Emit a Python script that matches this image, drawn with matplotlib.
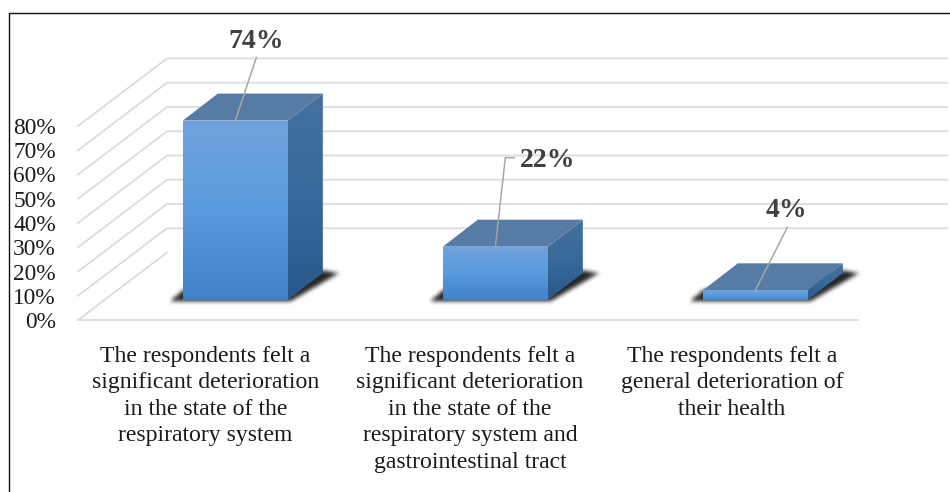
import numpy as np
import matplotlib
matplotlib.use('Agg')
import matplotlib.pyplot as plt
from matplotlib.colors import LinearSegmentedColormap
from matplotlib.lines import Line2D
from matplotlib.path import Path
from matplotlib.patches import Polygon

plt.rcParams['font.family'] = ['Liberation Serif', 'DejaVu Serif']

# data
categories = [
    "The respondents felt a\nsignificant deterioration\nin the state of the\nrespiratory system",
    "The respondents felt a\nsignificant deterioration\nin the state of the\nrespiratory system and\ngastrointestinal tract",
    "The respondents felt a\ngeneral deterioration of\ntheir health",
]
values = [74, 22, 4]
value_labels = ["74%", "22%", "4%"]
y_ticks = [0, 10, 20, 30, 40, 50, 60, 70, 80]
y_tick_labels = ["0%", "10%", "20%", "30%", "40%", "50%", "60%", "70%", "80%"]

# fake 3d geometry, one category is 260 px and 10% is 24.25 px
PX_X = 1 / 260
PX_Y = 1 / 2.425
FLOOR_DX = 89 * PX_X
FLOOR_DY = 67.5 * PX_Y
BAR_WIDTH = 105 * PX_X
BAR_DX = 35 * PX_X
BAR_DY = 27 * PX_Y
BAR_SHIFT = 0.296  # how far back on the floor the bars stand

# label offsets from the top front edge of each bar, in px
LABEL_OFFSET = [(21, 79), (52, 86), (31, 80)]
LEADER_PATH = [[(21, 63)], [(10, 89), (19, 89)], [(32, 63)]]
XLABEL_SHIFT = [-2.5, 2, 4]

front_cmap = LinearSegmentedColormap.from_list('front', ['#70A3DD', '#5A9BDD', '#3F82C6'])
side_cmap = LinearSegmentedColormap.from_list('side', ['#46719E', '#376A9B', '#28588A'])
grad = np.linspace(0, 1, 128).reshape(-1, 1)

fig = plt.figure(figsize=(9.5, 4.92), dpi=100)
ax = fig.add_axes([78 / 950, (492 - 320) / 492, 780 / 950, 194 / 492])


def draw_face(pts, cmap, zorder):
    poly = Polygon(pts, closed=True, fc='none', ec='none', transform=ax.transData)
    ax.add_patch(poly)
    xs = [p[0] for p in pts]
    ys = [p[1] for p in pts]
    im = ax.imshow(grad, cmap=cmap, aspect='auto', zorder=zorder,
                   extent=[min(xs), max(xs), min(ys), max(ys)])
    # bars can stick out above the 80% front line
    im.set_clip_box(fig.bbox)
    im.set_clip_path(poly)


def draw_shadow(pts, zorder):
    # soft shadow: fill the shape on a 1 px grid, then box blur it twice
    xs = [p[0] for p in pts]
    ys = [p[1] for p in pts]
    gx = np.arange(min(xs) - 20 * PX_X, max(xs) + 20 * PX_X, PX_X)
    gy = np.arange(min(ys) - 12 * PX_Y, max(ys) + 12 * PX_Y, PX_Y)
    mx, my = np.meshgrid(gx, gy)
    grid = np.column_stack([mx.ravel(), my.ravel()])
    mask = Path(pts).contains_points(grid).reshape(mx.shape).astype(float)
    kernel = np.ones(5) / 5
    for _ in range(2):
        mask = np.apply_along_axis(lambda r: np.convolve(r, kernel, mode='same'), 0, mask)
        mask = np.apply_along_axis(lambda r: np.convolve(r, kernel, mode='same'), 1, mask)
    rgba = np.zeros(mask.shape + (4,))
    rgba[..., 3] = mask * 0.85
    im = ax.imshow(rgba, origin='lower', aspect='auto', zorder=zorder, interpolation='bilinear',
                   extent=[gx[0], gx[-1], gy[0], gy[-1]])
    im.set_clip_box(fig.bbox)


# floor and back wall lines
for t in y_ticks:
    end = 3 + FLOOR_DX
    if t == 0:
        ax.plot([0, 3], [0, 0], color='#DCDCDC', lw=1.3, clip_on=False, zorder=1)
        ax.plot([0, FLOOR_DX], [0, FLOOR_DY], color='#DCDCDC', lw=1.3, clip_on=False, zorder=1)
    else:
        ax.plot([0, FLOOR_DX, end], [t, t + FLOOR_DY, t + FLOOR_DY],
                color='#DCDCDC', lw=1.3, clip_on=False, zorder=1)

for i, val in enumerate(values):
    x0 = i + 0.5 + BAR_SHIFT * FLOOR_DX - BAR_WIDTH / 2 + 1 * PX_X
    x1 = x0 + BAR_WIDTH
    y0 = BAR_SHIFT * FLOOR_DY
    y1 = y0 + val

    draw_shadow([(x0 - 14 * PX_X, y0 - 2 * PX_Y), (x1 + 2 * PX_X, y0 - 2 * PX_Y),
                 (x1 + BAR_DX + 16 * PX_X, y0 + BAR_DY), (x1 + BAR_DX, y0 + BAR_DY + 3 * PX_Y),
                 (x0, y0 + 10 * PX_Y)], 2)

    draw_face([(x1, y0), (x1 + BAR_DX, y0 + BAR_DY), (x1 + BAR_DX, y1 + BAR_DY), (x1, y1)], side_cmap, 3)
    ax.add_patch(Polygon([(x0, y1), (x1, y1), (x1 + BAR_DX, y1 + BAR_DY), (x0 + BAR_DX, y1 + BAR_DY)],
                         closed=True, fc='#567BA5', ec='none', clip_on=False, zorder=3))
    draw_face([(x0, y0), (x1, y0), (x1, y1), (x0, y1)], front_cmap, 4)

    # leader line and value label
    cx = (x0 + x1) / 2
    path = [(cx, y1)] + [(cx + dx * PX_X, y1 + dy * PX_Y) for dx, dy in LEADER_PATH[i]]
    ax.plot([p[0] for p in path], [p[1] for p in path], color='#A6A6A6', lw=1.1,
            clip_on=False, zorder=5)
    dx, dy = LABEL_OFFSET[i]
    ax.text(cx + dx * PX_X, y1 + dy * PX_Y, value_labels[i], fontsize=20, fontweight='bold',
            color='#404040', ha='center', va='center', zorder=6)

ax.set_xlim(0, 3)
ax.set_ylim(0, 80)
ax.set_yticks(y_ticks)
ax.set_yticklabels(y_tick_labels, fontsize=16.8, color='#1A1A1A')
ax.set_xticks([i + 0.5 + s * PX_X for i, s in enumerate(XLABEL_SHIFT)])
ax.set_xticklabels(categories, fontsize=17.1, color='#1A1A1A', linespacing=1.35)
ax.tick_params(axis='y', length=0, pad=15.8)
ax.tick_params(axis='x', length=0, pad=18.5)
for s in ax.spines.values():
    s.set_visible(False)
ax.patch.set_visible(False)

# picture frame
fig.add_artist(Line2D([8.5 / 950, 8.5 / 950, 1], [0, 1 - 12.5 / 492, 1 - 12.5 / 492],
                      color='#111111', lw=1.0))

fig.savefig('out.png', dpi=100)
